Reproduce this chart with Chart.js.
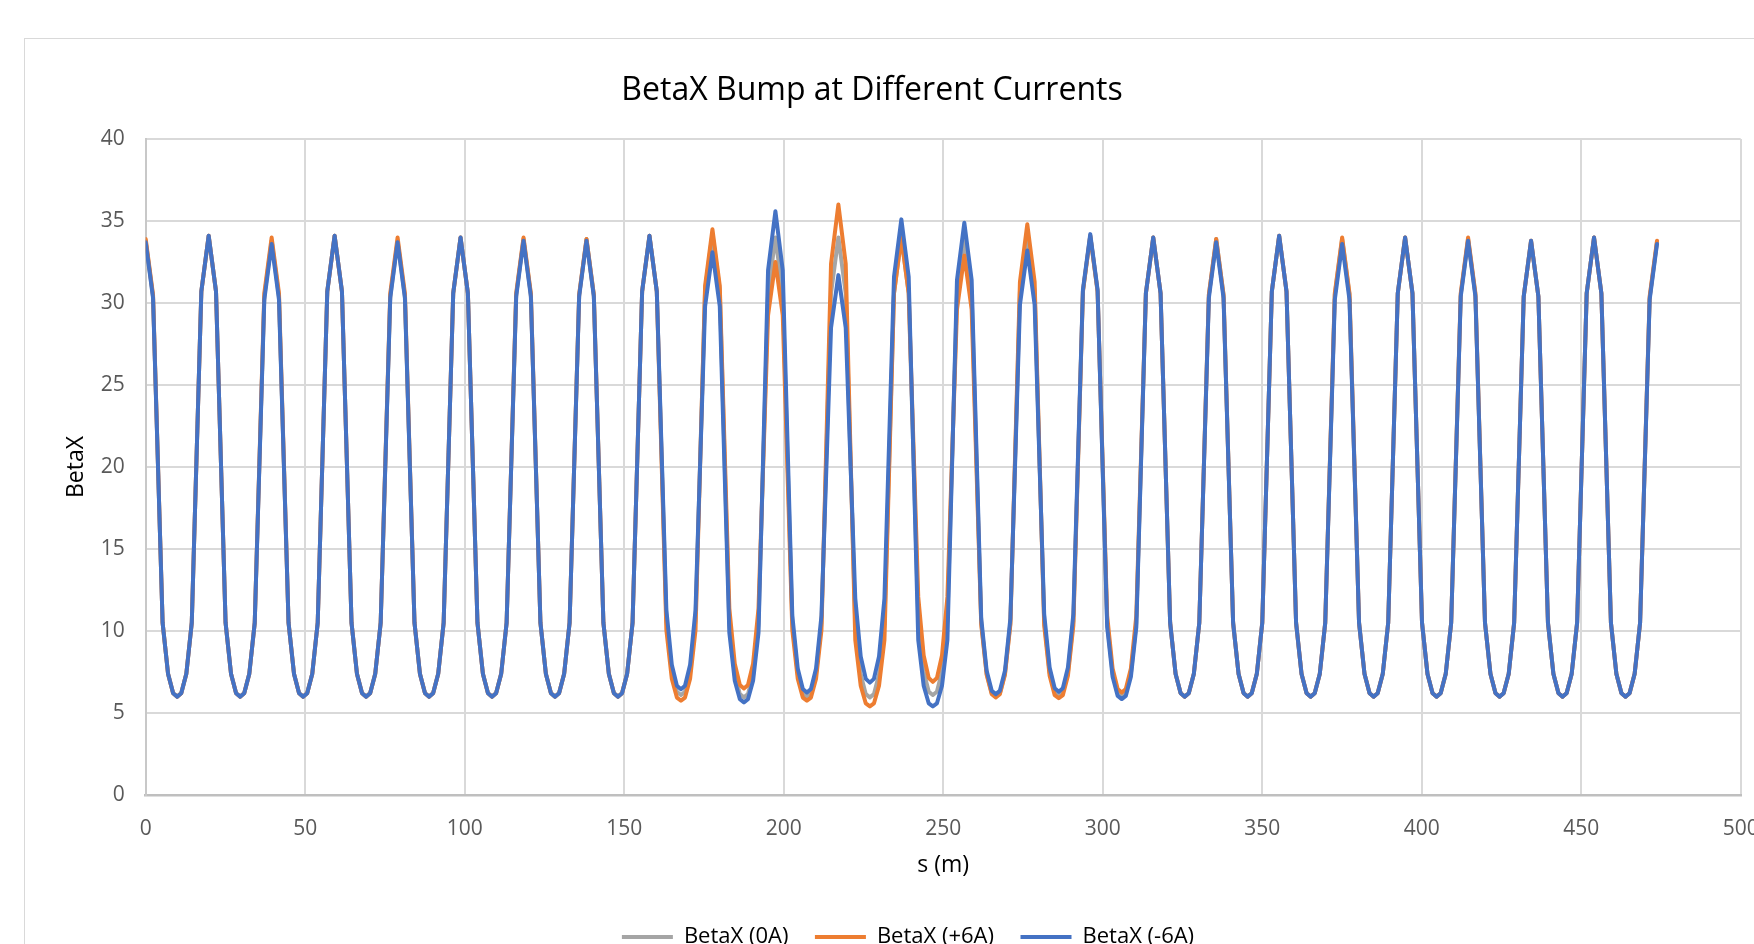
<!DOCTYPE html>
<html>
<head>
<meta charset="utf-8">
<script src="https://cdn.jsdelivr.net/npm/chart.js@4/dist/chart.umd.min.js"></script>
<style>
  html, body { margin: 0; padding: 0; background: #fff; overflow: hidden; width: 1754px; height: 944px; }
  #frame { position: absolute; left: 24px; top: 38px; width: 1800px; height: 1000px; border: 1.5px solid #d9d9d9; }
  #c { position: absolute; left: 0; top: 0; }
</style>
</head>
<body>
<div id="frame"></div>
<canvas id="c" width="1800" height="960"></canvas>
<script>
// s positions (m)
const S = [
  0, 2.3, 5.3, 7.0, 8.6, 9.87, 11.14, 12.74, 14.44, 17.44,
  19.74, 22.04, 25.04, 26.74, 28.34, 29.61, 30.88, 32.48, 34.18, 37.18,
  39.48, 41.78, 44.78, 46.48, 48.08, 49.35, 50.62, 52.22, 53.92, 56.92,
  59.22, 61.52, 64.52, 66.22, 67.82, 69.09, 70.36, 71.96, 73.66, 76.66,
  78.96, 81.26, 84.26, 85.96, 87.56, 88.83, 90.10, 91.70, 93.40, 96.40,
  98.70, 101.00, 104.00, 105.70, 107.30, 108.57, 109.84, 111.44, 113.14, 116.14,
  118.44, 120.74, 123.74, 125.44, 127.04, 128.31, 129.58, 131.18, 132.88, 135.88,
  138.18, 140.48, 143.48, 145.18, 146.78, 148.05, 149.32, 150.92, 152.62, 155.62,
  157.92, 160.22, 163.22, 164.92, 166.52, 167.79, 169.06, 170.66, 172.36, 175.36,
  177.66, 179.96, 182.96, 184.66, 186.26, 187.53, 188.80, 190.40, 192.10, 195.10,
  197.40, 199.70, 202.70, 204.40, 206.00, 207.27, 208.54, 210.14, 211.84, 214.84,
  217.14, 219.44, 222.44, 224.14, 225.74, 227.01, 228.28, 229.88, 231.58, 234.58,
  236.88, 239.18, 242.18, 243.88, 245.48, 246.75, 248.02, 249.62, 251.32, 254.32,
  256.62, 258.92, 261.92, 263.62, 265.22, 266.49, 267.76, 269.36, 271.06, 274.06,
  276.36, 278.66, 281.66, 283.36, 284.96, 286.23, 287.50, 289.10, 290.80, 293.80,
  296.10, 298.40, 301.40, 303.10, 304.70, 305.97, 307.24, 308.84, 310.54, 313.54,
  315.84, 318.14, 321.14, 322.84, 324.44, 325.71, 326.98, 328.58, 330.28, 333.28,
  335.58, 337.88, 340.88, 342.58, 344.18, 345.45, 346.72, 348.32, 350.02, 353.02,
  355.32, 357.62, 360.62, 362.32, 363.92, 365.19, 366.46, 368.06, 369.76, 372.76,
  375.06, 377.36, 380.36, 382.06, 383.66, 384.93, 386.20, 387.80, 389.50, 392.50,
  394.80, 397.10, 400.10, 401.80, 403.40, 404.67, 405.94, 407.54, 409.24, 412.24,
  414.54, 416.84, 419.84, 421.54, 423.14, 424.41, 425.68, 427.28, 428.98, 431.98,
  434.28, 436.58, 439.58, 441.28, 442.88, 444.15, 445.42, 447.02, 448.72, 451.72,
  454.02, 456.32, 459.32, 461.02, 462.62, 463.89, 465.16, 466.76, 468.46, 471.46,
  473.76
];

const BETA_0A = [
  33.8,30.4,10.5,7.4,6.2,6.0,6.2,7.4,10.5,30.7,
  34.1,30.7,10.5,7.4,6.2,6.0,6.2,7.4,10.5,30.4,
  33.8,30.4,10.5,7.4,6.2,6.0,6.2,7.4,10.5,30.7,
  34.1,30.7,10.5,7.4,6.2,6.0,6.2,7.4,10.5,30.4,
  33.8,30.4,10.5,7.4,6.2,6.0,6.2,7.4,10.5,30.6,
  34.0,30.6,10.5,7.4,6.2,6.0,6.2,7.4,10.5,30.5,
  33.9,30.5,10.5,7.4,6.2,6.0,6.2,7.4,10.5,30.5,
  33.9,30.5,10.5,7.4,6.2,6.0,6.2,7.4,10.5,30.7,
  34.1,30.7,10.7,7.52,6.3,6.1,6.3,7.52,10.7,30.8,
  34.2,30.8,10.4,7.34,6.15,5.95,6.15,7.34,10.4,30.6,
  34.0,30.6,10.5,7.4,6.2,6.0,6.2,7.4,10.5,30.6,
  34.0,30.6,10.4,7.34,6.15,5.95,6.15,7.34,10.4,30.6,
  34.0,30.6,10.7,7.52,6.3,6.1,6.3,7.52,10.7,30.6,
  34.0,30.6,10.5,7.4,6.2,6.0,6.2,7.4,10.5,30.7,
  34.1,30.7,10.6,7.46,6.25,6.05,6.25,7.46,10.6,30.7,
  34.1,30.7,10.5,7.4,6.2,6.0,6.2,7.4,10.5,30.6,
  34.0,30.6,10.5,7.4,6.2,6.0,6.2,7.4,10.5,30.5,
  33.9,30.5,10.5,7.4,6.2,6.0,6.2,7.4,10.5,30.7,
  34.1,30.7,10.5,7.4,6.2,6.0,6.2,7.4,10.5,30.5,
  33.9,30.5,10.5,7.4,6.2,6.0,6.2,7.4,10.5,30.6,
  34.0,30.6,10.5,7.4,6.2,6.0,6.2,7.4,10.5,30.5,
  33.9,30.5,10.5,7.4,6.2,6.0,6.2,7.4,10.5,30.4,
  33.8,30.4,10.5,7.4,6.2,6.0,6.2,7.4,10.5,30.6,
  34.0,30.6,10.5,7.4,6.2,6.0,6.2,7.4,10.5,30.3,
  33.7
];

const BETA_P6A = [
  33.9,30.5,10.5,7.4,6.2,6.0,6.2,7.4,10.5,30.7,
  34.1,30.7,10.5,7.4,6.2,6.0,6.2,7.4,10.5,30.6,
  34.0,30.6,10.5,7.4,6.2,6.0,6.2,7.4,10.5,30.7,
  34.1,30.7,10.5,7.4,6.2,6.0,6.2,7.4,10.5,30.6,
  34.0,30.6,10.5,7.4,6.2,6.0,6.2,7.4,10.5,30.6,
  34.0,30.6,10.5,7.4,6.2,6.0,6.2,7.4,10.5,30.6,
  34.0,30.6,10.5,7.4,6.2,6.0,6.2,7.4,10.5,30.5,
  33.9,30.5,10.5,7.4,6.2,6.0,6.2,7.4,10.5,30.7,
  34.1,30.7,10.06,7.09,5.94,5.75,5.94,7.09,10.06,31.05,
  34.5,31.05,11.38,8.01,6.71,6.5,6.71,8.01,11.38,29.25,
  32.5,29.25,10.06,7.09,5.94,5.75,5.94,7.09,10.06,32.4,
  36.0,32.4,9.45,6.66,5.58,5.4,5.58,6.66,9.45,30.6,
  34.0,30.6,12.08,8.51,7.13,6.9,7.13,8.51,12.08,29.6,
  32.9,29.6,10.4,7.34,6.15,5.95,6.15,7.34,10.4,31.3,
  34.8,31.3,10.33,7.27,6.09,5.9,6.09,7.27,10.33,30.7,
  34.1,30.7,10.94,7.71,6.46,6.25,6.46,7.71,10.94,30.6,
  34.0,30.6,10.5,7.4,6.2,6.0,6.2,7.4,10.5,30.5,
  33.9,30.5,10.5,7.4,6.2,6.0,6.2,7.4,10.5,30.7,
  34.1,30.7,10.5,7.4,6.2,6.0,6.2,7.4,10.5,30.6,
  34.0,30.6,10.5,7.4,6.2,6.0,6.2,7.4,10.5,30.6,
  34.0,30.6,10.5,7.4,6.2,6.0,6.2,7.4,10.5,30.6,
  34.0,30.6,10.5,7.4,6.2,6.0,6.2,7.4,10.5,30.4,
  33.8,30.4,10.5,7.4,6.2,6.0,6.2,7.4,10.5,30.6,
  34.0,30.6,10.5,7.4,6.2,6.0,6.2,7.4,10.5,30.4,
  33.8
];

const BETA_M6A = [
  33.7,30.3,10.5,7.4,6.2,6.0,6.2,7.4,10.5,30.7,
  34.1,30.7,10.5,7.4,6.2,6.0,6.2,7.4,10.5,30.2,
  33.6,30.2,10.5,7.4,6.2,6.0,6.2,7.4,10.5,30.7,
  34.1,30.7,10.5,7.4,6.2,6.0,6.2,7.4,10.5,30.3,
  33.7,30.3,10.5,7.4,6.2,6.0,6.2,7.4,10.5,30.6,
  34.0,30.6,10.5,7.4,6.2,6.0,6.2,7.4,10.5,30.4,
  33.8,30.4,10.5,7.4,6.2,6.0,6.2,7.4,10.5,30.4,
  33.8,30.4,10.5,7.4,6.2,6.0,6.2,7.4,10.5,30.7,
  34.1,30.7,11.29,7.95,6.66,6.45,6.66,7.95,11.29,29.8,
  33.1,29.8,9.89,6.97,5.84,5.65,5.84,6.97,9.89,32.0,
  35.6,32.0,10.94,7.71,6.46,6.25,6.46,7.71,10.94,28.5,
  31.7,28.5,11.99,8.45,7.08,6.85,7.08,8.45,11.99,31.6,
  35.1,31.6,9.45,6.66,5.58,5.4,5.58,6.66,9.45,31.4,
  34.9,31.4,10.76,7.58,6.35,6.15,6.35,7.58,10.76,29.9,
  33.2,29.9,11.03,7.77,6.51,6.3,6.51,7.77,11.03,30.8,
  34.2,30.8,10.24,7.21,6.04,5.85,6.04,7.21,10.24,30.6,
  34.0,30.6,10.5,7.4,6.2,6.0,6.2,7.4,10.5,30.3,
  33.7,30.3,10.5,7.4,6.2,6.0,6.2,7.4,10.5,30.7,
  34.1,30.7,10.5,7.4,6.2,6.0,6.2,7.4,10.5,30.2,
  33.6,30.2,10.5,7.4,6.2,6.0,6.2,7.4,10.5,30.6,
  34.0,30.6,10.5,7.4,6.2,6.0,6.2,7.4,10.5,30.4,
  33.8,30.4,10.5,7.4,6.2,6.0,6.2,7.4,10.5,30.4,
  33.8,30.4,10.5,7.4,6.2,6.0,6.2,7.4,10.5,30.6,
  34.0,30.6,10.5,7.4,6.2,6.0,6.2,7.4,10.5,30.2,
  33.6
];

const SERIES_NAMES = ['BetaX (0A)', 'BetaX (+6A)', 'BetaX (-6A)'];
const SERIES_COLORS = ['#A5A5A5', '#ED7D31', '#4472C4'];
const TITLE = 'BetaX Bump at Different Currents';
const X_TITLE = 's (m)';
const Y_TITLE = 'BetaX';
const X_MIN = 0, X_MAX = 500, X_STEP = 50;
const Y_MIN = 0, Y_MAX = 40, Y_STEP = 5;

const FONT = '"Open Sans", "Noto Sans", sans-serif';

function pts(arr) { return S.map((s, i) => ({ x: s, y: arr[i] })); }

const seriesValues = [BETA_0A, BETA_P6A, BETA_M6A];
const datasets = seriesValues.map((vals, i) => ({
  label: SERIES_NAMES[i],
  data: pts(vals),
  borderColor: SERIES_COLORS[i],
  backgroundColor: SERIES_COLORS[i],
  borderWidth: 4,
  pointRadius: 0,
  tension: 0,
  fill: false,
  borderJoinStyle: 'round',
  borderCapStyle: 'round',
  order: 3 - i
}));

const legendShift = {
  id: 'legendShift',
  afterLayout(chart) {
    const lg = chart.legend;
    if (lg) { lg.left += 36; lg.right += 36; lg.top += 4.5; lg.bottom += 4.5; }
  }
};

new Chart(document.getElementById('c'), {
  type: 'line',
  data: { datasets },
  plugins: [legendShift],
  options: {
    responsive: false,
    animation: false,
    devicePixelRatio: 1,
    layout: { padding: { left: 3.3, right: 59.3, top: 0, bottom: 6.5 } },
    plugins: {
      title: {
        display: true,
        text: TITLE,
        color: '#000',
        font: { family: FONT, size: 32, weight: 'normal' },
        padding: { top: 71.5, bottom: 29.1 }
      },
      legend: {
        display: true,
        position: 'bottom',
        labels: {
          usePointStyle: true,
          pointStyle: 'line',
          pointStyleWidth: 51,
          padding: 26.5,
          color: '#000',
          font: { family: FONT, size: 22 },
          sort: (a, b) => a.datasetIndex - b.datasetIndex
        }
      },
      tooltip: { enabled: false }
    },
    scales: {
      x: {
        type: 'linear',
        min: X_MIN, max: X_MAX,
        afterFit(scale) { scale.height = 100; },
        ticks: {
          stepSize: X_STEP, autoSkip: false, maxRotation: 0,
          padding: 21, color: '#595959',
          font: { family: FONT, size: 21 }
        },
        grid: { color: '#d9d9d9', lineWidth: 2, drawTicks: false },
        border: { display: true, color: '#bfbfbf', width: 2.5 },
        title: {
          display: true, text: X_TITLE, color: '#000',
          font: { family: FONT, size: 23 },
          padding: { top: 0, bottom: 16 }
        }
      },
      y: {
        type: 'linear',
        min: Y_MIN, max: Y_MAX,
        afterFit(scale) { scale.width = 142.4; },
        ticks: {
          stepSize: Y_STEP, padding: 21, color: '#595959',
          font: { family: FONT, size: 21 }
        },
        grid: { color: '#d9d9d9', lineWidth: 2, drawTicks: false },
        border: { display: true, color: '#c8c8c8', width: 2 },
        title: {
          display: true, text: Y_TITLE, color: '#000',
          font: { family: FONT, size: 23 },
          padding: { top: 59, bottom: 0 }
        }
      }
    }
  }
});
</script>
</body>
</html>
